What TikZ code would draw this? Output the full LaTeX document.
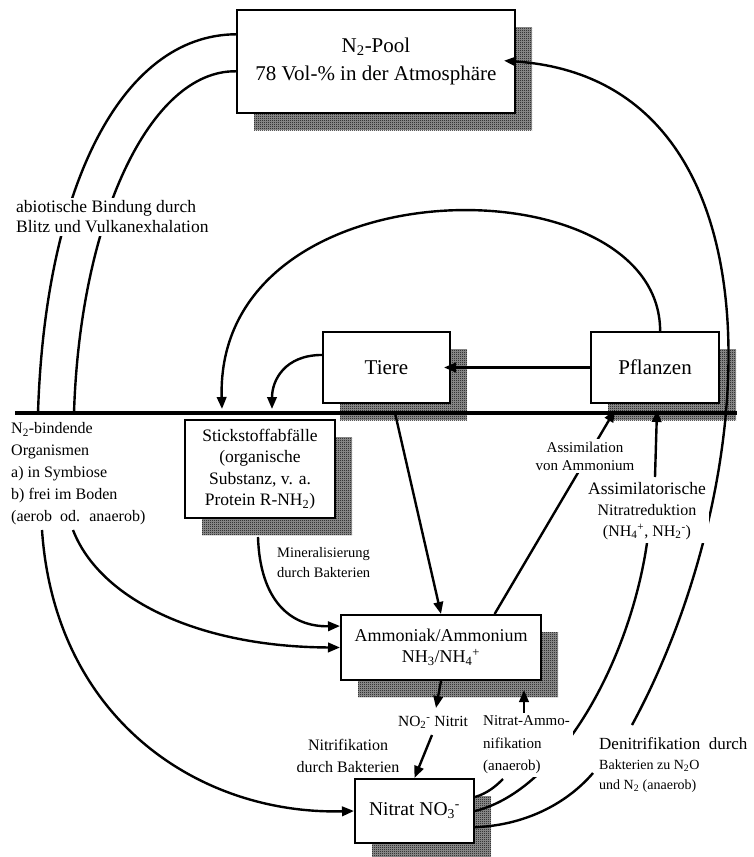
\documentclass[tikz,border=0pt]{standalone}
\usepackage{fontspec}
\setmainfont{Liberation Serif}
\usetikzlibrary{arrows.meta,shadows,patterns}

% fine checkered shadow like the scanned raster
\pgfdeclarepatternformonly{checker}{\pgfpointorigin}{\pgfpoint{2pt}{2pt}}{\pgfpoint{2pt}{2pt}}{%
  \pgfpathrectangle{\pgfpointorigin}{\pgfpoint{1pt}{1pt}}%
  \pgfpathrectangle{\pgfpoint{1pt}{1pt}}{\pgfpoint{1pt}{1pt}}%
  \pgfusepath{fill}}

\tikzset{
  pool/.style={draw, line width=2pt, fill=white, align=center, inner sep=0pt,
    general shadow={fill=black!40, shadow xshift=17pt, shadow yshift=-17pt},
    general shadow={pattern=checker, shadow xshift=17pt, shadow yshift=-17pt}},
  flow/.style={line width=2.4pt},
  arr/.style={flow, -{Triangle[length=12pt,width=9.5pt]}},
  lbl/.style={fill=white, inner sep=3pt},
}

\begin{document}
\begin{tikzpicture}[x=1pt, y=-1pt]
    \useasboundingbox (0,0) rectangle (754,857);

    % Boxes (pools of nitrogen)
    \node[pool, minimum width=278pt, minimum height=103pt, font=\fontsize{21}{28}\selectfont]
        (pool) at (376,61.5) {N\textsubscript{2}-Pool\\78 Vol-\% in der Atmosphäre};
    \node[pool, minimum width=127pt, minimum height=71pt, font=\fontsize{21}{23}\selectfont]
        (tiere) at (386.5,367.5) {Tiere};
    \node[pool, minimum width=128pt, minimum height=71pt, font=\fontsize{21}{23}\selectfont]
        (pflanzen) at (655,367.5) {Pflanzen};
    \node[pool, minimum width=150pt, minimum height=98pt, font=\fontsize{17.5}{21.5}\selectfont]
        (abfall) at (260,469) {Stickstoffabfälle\\(organische\\Substanz, v. a.\\Protein R-NH\textsubscript{2})};
    \node[pool, minimum width=200pt, minimum height=65pt, font=\fontsize{18}{21}\selectfont]
        (ammon) at (441,647.5) {Ammoniak/Ammonium\\NH\textsubscript{3}/NH\textsubscript{4}\textsuperscript{+}};
    \node[pool, minimum width=119pt, minimum height=64pt, font=\fontsize{19.5}{22}\selectfont]
        (nitrat) at (414.5,811) {Nitrat NO\textsubscript{3}\textsuperscript{-}};

    % Soil surface
    \draw[line width=4pt] (15,413) -- (737,413);
    \coordinate (fixA) at (38,413);
    \coordinate (fixB) at (74,413);
    \coordinate (orgA) at (42,530);
    \coordinate (orgB) at (73,530);
    \coordinate (abfA) at (222,409);
    \coordinate (abfB) at (272,409);
    \coordinate (tierG) at (395,413);
    \coordinate (minA) at (258,537);
    \coordinate (assimT) at (615,410);
    \coordinate (redT) at (657,410);
    \coordinate (namL) at (503,779);
    \coordinate (denL) at (593,773);
    \coordinate (denU) at (632,725);

    % Fixation of N2
    \draw[flow] (pool.169) .. controls (120,35) and (45,190) .. (fixA);
    \draw[flow] (pool.184) .. controls (150,70) and (80,220) .. (fixB);
    \draw[arr] (orgA) .. controls (55,720) and (200,815) .. (nitrat.west);
    \draw[arr] (orgB) .. controls (100,600) and (200,647) .. (ammon.west);

    % Food chain and waste
    \draw[arr, shorten >=-7pt] (pflanzen.west) -- (tiere.east);
    \draw[arr] (pflanzen.82) .. controls (660,160) and (215,160) .. (abfA);
    \draw[arr] (tiere.169) .. controls (285,355) and (272,380) .. (abfB);
    \draw[arr] (minA) .. controls (260,600) and (290,627) .. (ammon.168);
    \draw[arr] (tierG) -- (ammon.north);

    % Uptake by plants
    \draw[arr] (ammon.32) -- (assimT);
    \draw[flow] (nitrat.east) .. controls (560,790) and (630,660) .. (647,543);
    \draw[arr] (655,477) -- (redT);

    % Nitrification and nitrate ammonification
    \draw[arr] (ammon.south) -- (436,708);
    \draw[arr] (432,735) -- (nitrat.north);
    \draw[flow] (nitrat.13) .. controls (488,793) and (496,786) .. (namL);
    \draw[arr, shorten >=10pt] (524,714) -- (524,680);

    % Denitrification
    \draw[flow] (nitrat.-15) .. controls (530,825) and (570,800) .. (denL);
    \draw[arr, shorten >=-12pt] (denU) .. controls (765,480) and (790,80) .. (pool.east);

    % Labels
    \node[lbl, anchor=west, align=left, font=\fontsize{17.5}{20}\selectfont] (abio) at (13,217)
        {abiotische Bindung durch\\Blitz und Vulkanexhalation};
    \node[lbl, anchor=west, align=left, font=\fontsize{16}{22}\selectfont] (orga) at (8,474)
        {N\textsubscript{2}-bindende\\Organismen\\a) in Symbiose\\b) frei im Boden\\(aerob~ od.~ anaerob)};
    \node[lbl, anchor=west, align=left, font=\fontsize{14.5}{20}\selectfont] (miner) at (274,563)
        {Mineralisierung\\durch Bakterien};
    \node[lbl, align=center, font=\fontsize{15}{18}\selectfont] (assam) at (585,456)
        {Assimilation\\von Ammonium};
    \node[lbl, align=center, font=\fontsize{16}{21}\selectfont] (nitred) at (647,511)
        {{\fontsize{17.5}{21}\selectfont Assimilatorische}\\Nitratreduktion\\(NH\textsubscript{4}\textsuperscript{+}, NH\textsubscript{2}\textsuperscript{-})};
    \node[lbl, font=\fontsize{15.5}{18}\selectfont] (nitrit) at (433,722)
        {NO\textsubscript{2}\textsuperscript{-} Nitrit};
    \node[lbl, anchor=west, align=left, font=\fontsize{15}{22.5}\selectfont] (nitam) at (480,745)
        {Nitrat-Ammo-\\nifikation\\(anaerob)};
    \node[lbl, align=center, font=\fontsize{16}{22}\selectfont] (nitrif) at (348,756)
        {Nitrifikation\\durch Bakterien};
    \node[lbl, anchor=west, align=left, font=\fontsize{14}{20}\selectfont] (denit) at (596,765)
        {{\fontsize{17}{20}\selectfont Denitrifikation~ durch}\\Bakterien zu N\textsubscript{2}O\\und N\textsubscript{2} (anaerob)};
\end{tikzpicture}
\end{document}
